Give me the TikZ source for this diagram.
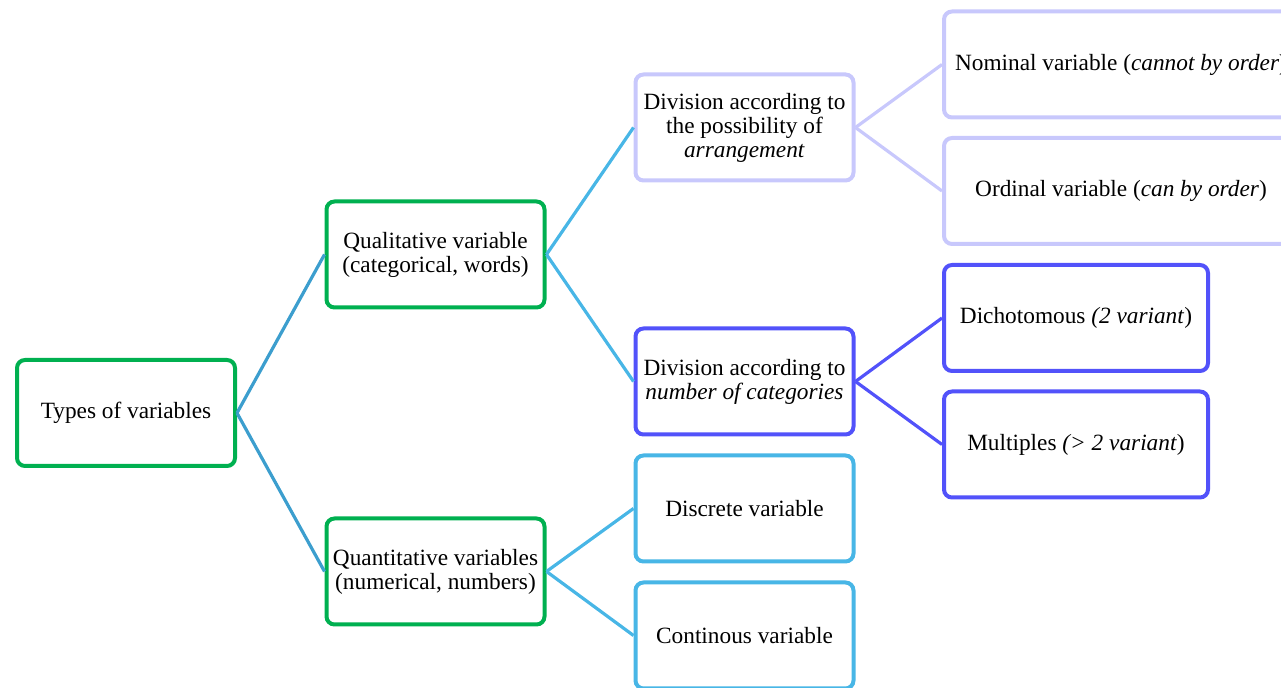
\documentclass[tikz,border=0pt]{standalone}
\usepackage{fontspec}
\setmainfont{Liberation Serif}[ItalicFont={Liberation Serif Italic},
                               BoldFont={Liberation Serif Bold}]
\usetikzlibrary{positioning}
\tikzset{every node/.append style={align=center}}
\definecolor{groupgreen}{RGB}{0,176,80}
\definecolor{rootblue}{RGB}{60,158,206}
\definecolor{skyblue2}{RGB}{72,182,230}
\definecolor{lavender2}{RGB}{200,200,252}
\definecolor{violet2}{RGB}{82,82,250}

\begin{document}
\begin{tikzpicture}[x=0.5pt,y=-0.5pt,
  varbox/.style={draw=#1, line width=2pt, rounded corners=4pt, fill=white,
                 minimum width=109pt, minimum height=53pt, inner sep=0pt,
                 font=\fontsize{11.65}{12}\selectfont},
  link/.style={draw=#1, line width=1.6pt}]

\clip (0,0) rectangle (1281,688);

% ── Root and main groups ──────────────────────────────────────────────────────
\node[varbox=groupgreen] (root) at (126,413) {Types of variables};
\node[varbox=groupgreen] (qual) at (435.5,254.5)
      {Qualitative variable\\(categorical, words)};
\node[varbox=groupgreen] (quant) at (435.5,571.5)
      {Quantitative variables\\(numerical, numbers)};

% ── Second level ──────────────────────────────────────────────────────────────
\node[varbox=lavender2] (arrange) at (744.5,127.5)
      {Division according to\\the possibility of\\\textit{arrangement}};
\node[varbox=violet2] (ncat) at (744.5,381.5)
      {Division according to\\\textit{number of categories}};
\node[varbox=skyblue2] (discrete) at (744.5,508.5) {Discrete variable};
\node[varbox=skyblue2] (contin) at (744.5,635.5) {Continous variable};

% ── Third level ───────────────────────────────────────────────────────────────
\node[varbox=lavender2, minimum width=177pt] (nominal) at (1121,64.5)
      {Nominal variable (\textit{cannot by order})};
\node[varbox=lavender2, minimum width=177pt] (ordinal) at (1121,191)
      {Ordinal variable (\textit{can by order})};
\node[varbox=violet2, minimum width=132pt] (dicho) at (1076,318)
      {Dichotomous \textit{(2 variant})};
\node[varbox=violet2, minimum width=132pt] (multi) at (1076,444.5)
      {Multiples \textit{(> 2 variant})};

% ── Connectors ────────────────────────────────────────────────────────────────
\draw[link=rootblue] (root.east) -- (qual.west);
\draw[link=rootblue] (root.east) -- (quant.west);
\draw[link=skyblue2] (qual.east) -- (arrange.west);
\draw[link=skyblue2] (qual.east) -- (ncat.west);
\draw[link=skyblue2] (quant.east) -- (discrete.west);
\draw[link=skyblue2] (quant.east) -- (contin.west);
\draw[link=lavender2] (arrange.east) -- (nominal.west);
\draw[link=lavender2] (arrange.east) -- (ordinal.west);
\draw[link=violet2] (ncat.east) -- (dicho.west);
\draw[link=violet2] (ncat.east) -- (multi.west);

\end{tikzpicture}
\end{document}
